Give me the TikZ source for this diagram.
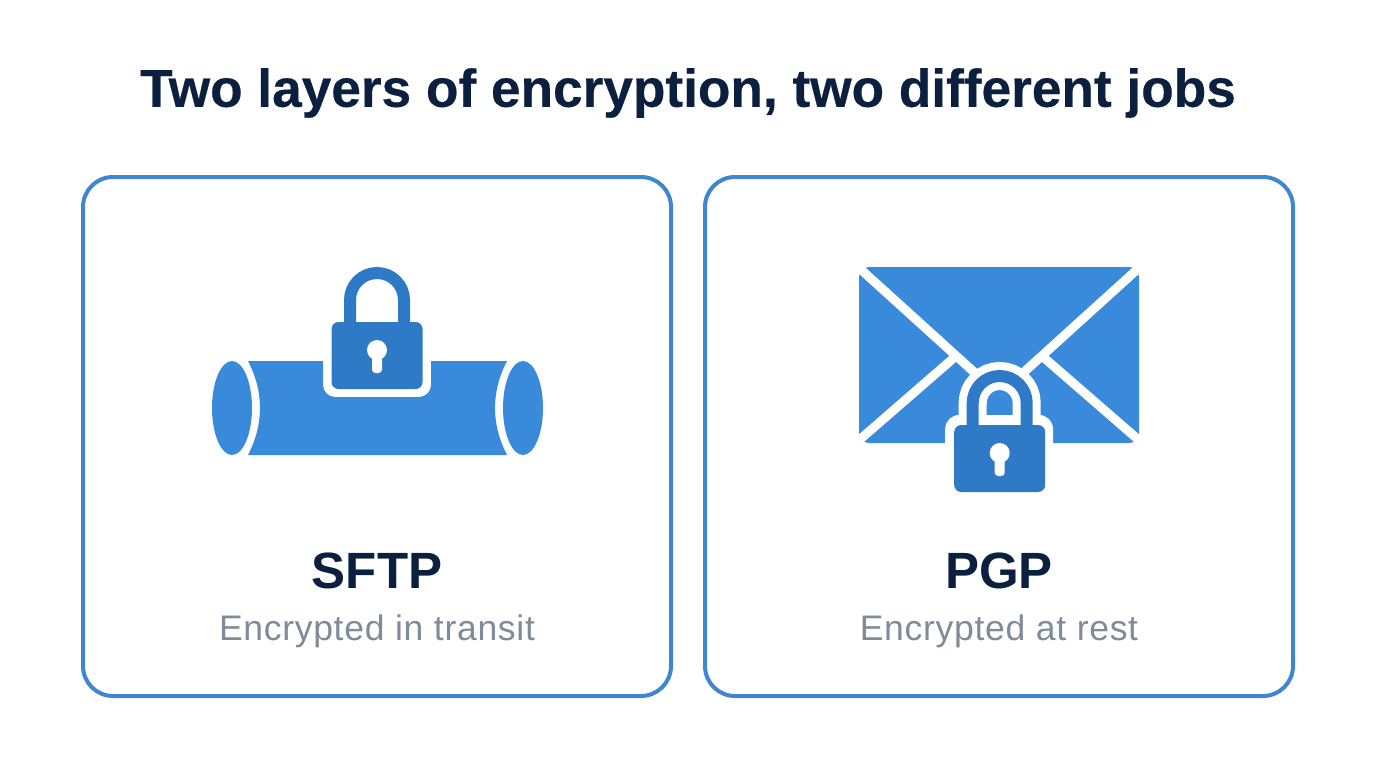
\documentclass[tikz,border=0pt]{standalone}
\usepackage{fontspec}
\setmainfont{Liberation Sans}
\definecolor{cardline}{HTML}{3F85CF}
\definecolor{iconblue}{HTML}{3A8ADB}
\definecolor{lockblue}{HTML}{2F7AC6}
\definecolor{navy}{HTML}{0B1F3F}
\definecolor{greytext}{HTML}{7F8B98}
\tikzset{
  card/.style={draw=cardline,line width=4pt,rounded corners=30pt,fill=white},
  titletext/.style={font=\addfontfeatures{FakeBold=0.4}\fontsize{53.2}{60}\selectfont\bfseries,text=navy,inner sep=0pt,anchor=center},
  headtext/.style={font=\fontsize{51}{60}\selectfont\bfseries,text=navy,inner sep=0pt,anchor=center},
  subtext/.style={font=\addfontfeatures{LetterSpace=2}\fontsize{35.5}{40}\selectfont,text=greytext,inner sep=0pt,anchor=center},
  iconfill/.style={fill=iconblue,draw=none},
  lockfill/.style={fill=lockblue,draw=none},
  slit/.style={draw=white,line width=9pt}
}
% lock centred on x = #1, with its shackle top at y = #2
\newcommand{\padlock}[2]{%
  \begin{scope}[shift={(#1,#2)}]
    \draw[lockblue,line width=12pt] (-27,60) -- (-27,33) arc[start angle=180,end angle=360,radius=27] -- (27,60);
    \fill[lockfill,rounded corners=7pt] (-45.5,55) rectangle (45.5,122);
    \fill[white] (0,83) circle[radius=10];
    \fill[white,rounded corners=3.5pt] (-5,85) rectangle (5,106);
  \end{scope}}
\begin{document}
\begin{tikzpicture}[x=1pt,y=-1pt]
\useasboundingbox (0,0) rectangle (1376,768);
\fill[white] (0,0) rectangle (1376,768);
\node[titletext] (title) at (688,93) {Two layers of encryption, two different jobs};
\draw[card] (83,177) rectangle (671,696);
\draw[card] (705,177) rectangle (1293,696);
% pipe
\fill[iconfill] (232,408) ellipse[x radius=20,y radius=47];
\fill[iconfill] (523,408) ellipse[x radius=20,y radius=47];
\fill[iconfill] (248,361) -- (323,361) -- (323,385) arc[start angle=180,end angle=90,radius=12] -- (419,397)
  arc[start angle=90,end angle=0,radius=12] -- (431,361) -- (507,361)
  .. controls (491,392) and (491,424) .. (507,455) -- (248,455)
  .. controls (264,424) and (264,392) .. (248,361) -- cycle;
\padlock{377}{267}
% envelope
\fill[iconfill,rounded corners=10pt] (859,267) rectangle (1139,443);
\draw[slit] (857,442) -- (956,356);
\draw[slit] (1141,442) -- (1042,356);
\draw[slit] (857,266) -- (985,382);
\draw[slit] (1141,266) -- (1013,382);
\draw[white,line width=28pt] (972.7,424) -- (972.7,403) arc[start angle=180,end angle=360,radius=27] -- (1026.7,424);
\fill[white,rounded corners=14pt] (945.2,415) rectangle (1053,470);
\padlock{999.7}{370}
\node[headtext] (sftp) at (377,570.5) {SFTP};
\node[subtext] (sftpsub) at (377,631) {Encrypted in transit};
\node[headtext] (pgp) at (999,570.5) {PGP};
\node[subtext] (pgpsub) at (999,631) {Encrypted at rest};
\end{tikzpicture}
\end{document}
